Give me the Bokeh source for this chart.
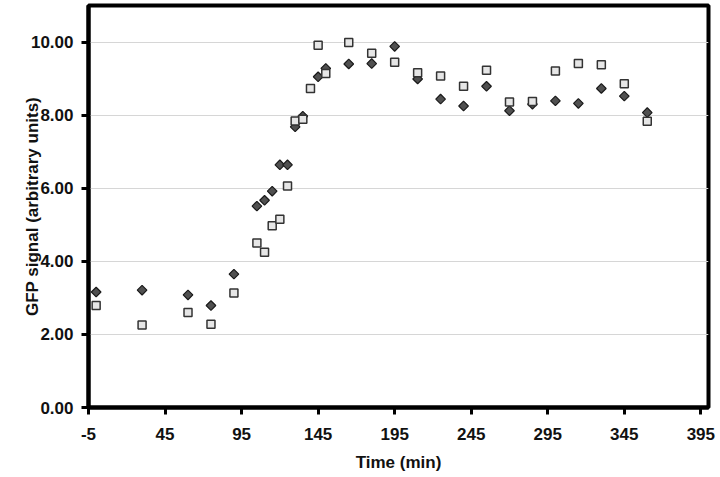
import numpy as np
from bokeh.plotting import figure
from bokeh.models import FixedTicker, NumeralTickFormatter, PrintfTickFormatter, Range1d
from bokeh.embed import file_html
from bokeh.resources import INLINE

# Series A (dark diamonds)
time_a = [0, 30, 60, 75, 90, 105, 110, 115, 120, 125, 130, 135, 145, 150,
          165, 180, 195, 210, 225, 240, 255, 270, 285, 300, 315, 330, 345, 360]
signal_a = [3.16, 3.21, 3.08, 2.79, 3.65, 5.51, 5.67, 5.92, 6.64, 6.64, 7.68, 7.97, 9.05, 9.28,
            9.40, 9.41, 9.88, 8.99, 8.44, 8.25, 8.79, 8.12, 8.30, 8.39, 8.32, 8.73, 8.52, 8.07]

# Series B (light squares)
time_b = [0, 30, 60, 75, 90, 105, 110, 115, 120, 125, 130, 135, 140, 145, 150,
          165, 180, 195, 210, 225, 240, 255, 270, 285, 300, 315, 330, 345, 360]
signal_b = [2.79, 2.26, 2.60, 2.28, 3.13, 4.50, 4.25, 4.97, 5.15, 6.06, 7.84, 7.89, 8.73, 9.91, 9.14,
            9.99, 9.69, 9.45, 9.16, 9.07, 8.79, 9.23, 8.36, 8.37, 9.21, 9.41, 9.38, 8.86, 7.83]

x_ticks = [-5, 45, 95, 145, 195, 245, 295, 345, 395]
y_ticks = [0, 2, 4, 6, 8, 10]

FONT = "Liberation Sans"
FS = "17px"

p = figure(width=720, height=477, output_backend="svg", toolbar_location=None,
           x_range=Range1d(-5, 400), y_range=Range1d(0, 11),
           min_border_left=88, min_border_right=12, min_border_top=5, min_border_bottom=70)

p.background_fill_color = "white"
p.border_fill_color = "white"
p.outline_line_color = "black"
p.outline_line_width = 4

p.xgrid.visible = False
p.ygrid.grid_line_color = "#d6d6d6"
p.ygrid.grid_line_width = 1
p.ygrid.ticker = FixedTicker(ticks=y_ticks)

p.xaxis.ticker = FixedTicker(ticks=x_ticks)
p.xaxis.formatter = PrintfTickFormatter(format="%d")
p.yaxis.ticker = FixedTicker(ticks=y_ticks)
p.yaxis.formatter = NumeralTickFormatter(format="0.00")

for ax in (p.xaxis, p.yaxis):
    ax.axis_line_width = 4
    ax.axis_line_color = "black"
    ax.major_tick_line_width = 3
    ax.major_tick_line_color = "black"
    ax.major_tick_in = 0
    ax.major_tick_out = 7
    ax.minor_tick_line_color = None
    ax.major_label_text_font = FONT
    ax.major_label_text_font_style = "bold"
    ax.major_label_text_font_size = FS
    ax.major_label_text_color = "#111111"
    ax.axis_label_text_font = FONT
    ax.axis_label_text_font_style = "bold"
    ax.axis_label_text_font_size = FS
    ax.axis_label_text_color = "#111111"

p.xaxis.axis_label = "Time (min)"
p.yaxis.axis_label = "GFP signal (arbitrary units)"
p.xaxis.major_label_standoff = 13
p.xaxis.axis_label_standoff = 10
p.yaxis.major_label_standoff = 8
p.yaxis.axis_label_standoff = -14

p.scatter(time_a, signal_a, marker="square", angle=np.pi / 4, size=6.8,
          fill_color="#505050", line_color="#1a1a1a", line_width=1.2)
p.scatter(time_b, signal_b, marker="square", size=8,
          fill_color="#e6e6e6", line_color="#333333", line_width=1.5)

open("out.html", "w").write(file_html(p, INLINE))
